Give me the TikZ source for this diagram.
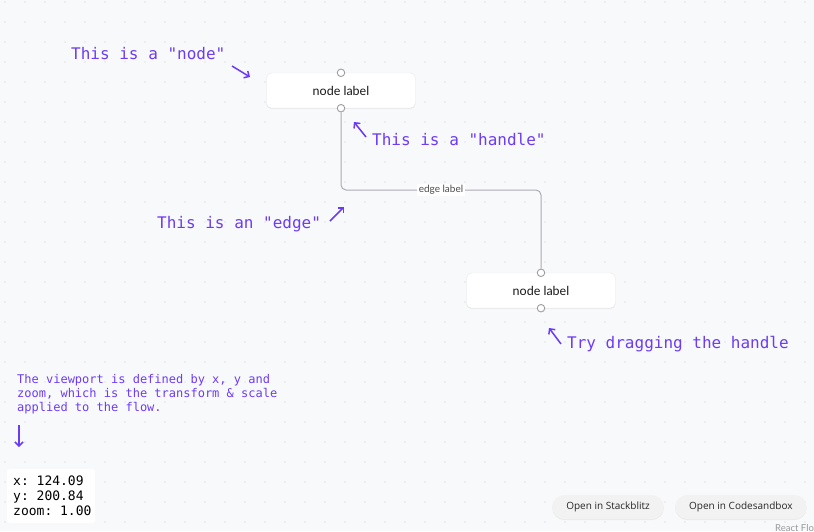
\documentclass[tikz,border=0pt]{standalone}
\usepackage{fontspec}
\setmainfont{Lato}
\setmonofont{DejaVu Sans Mono}
\newfontfamily\btnfont{Open Sans}
\usetikzlibrary{arrows.meta,positioning,shadows}
\definecolor{canvas}{HTML}{F8F9FB}
\definecolor{griddot}{HTML}{C9CBD1}
\definecolor{hint}{HTML}{6C3CF5}
\definecolor{edgegray}{HTML}{ACACB3}
\definecolor{handlegray}{HTML}{9C9CA3}

\begin{document}
\begin{tikzpicture}[
x=1pt, y=-1pt,
flownode/.style={fill=white, draw=black!8, rounded corners=5pt, minimum width=149pt, minimum height=35pt, inner sep=0pt, text=black!90, font=\fontsize{12.5}{14}\selectfont, drop shadow={opacity=0.12, shadow xshift=0pt, shadow yshift=-1pt}},
handle/.style={circle, fill=white, draw=handlegray, line width=0.9pt, minimum size=7.5pt, inner sep=0pt},
edge/.style={draw=edgegray, line width=1pt, rounded corners=5pt},
edgelabel/.style={fill=white, inner sep=1.5pt, text=black!70, font=\fontsize{10}{12}\selectfont},
note/.style={text=hint, inner sep=0pt, anchor=west, font=\ttfamily\fontsize{16}{19}\selectfont},
pointer/.style={draw=hint, line width=1.5pt, -{Straight Barb[length=4pt, width=8pt]}},
button/.style={fill=black!5, rounded corners=12pt, minimum height=24pt, inner xsep=14pt, font=\btnfont\fontsize{10}{12}\selectfont, text=black!85, drop shadow={opacity=0.12, shadow xshift=0pt, shadow yshift=-1pt}}
]
% canvas and dot grid
\fill[canvas] (0,0) rectangle (814,531);
\useasboundingbox (0,0) rectangle (814,531);
\foreach \i in {0,...,40}
  \foreach \j in {0,...,26}
    \fill[griddot] (5+20*\i,2+20*\j) circle (0.7pt);

% the two flow nodes
\node[flownode] (top) at (341,90.5) {node label};
\node[flownode] (bottom) at (541,290.5) {node label};
\node[handle] (topin) at (top.north) {};
\node[handle] (topout) at (top.south) {};
\node[handle] (bottomin) at (bottom.north) {};
\node[handle] (bottomout) at (bottom.south) {};

% edge
\coordinate (bend) at (441,190);
\draw[edge] (topout) |- (bend) -| (bottomin);
\node[edgelabel] (elabel) at (bend) {edge label};

% hints
\node[note] (nodehint) at (71,54) {This is a "node"};
\node[note] (handlehint) at (372,139) {This is a "handle"};
\node[note] (edgehint) at (157,224) {This is an "edge"};
\node[note] (draghint) at (567,344) {Try dragging the handle};
\coordinate (nodetip) at (250,77);
\coordinate (handletip) at (354,122);
\coordinate (edgetip) at (344,207);
\coordinate (dragtip) at (549,328);
\draw[pointer] (232,66) -- (nodetip);
\draw[pointer] (366,137) -- (handletip);
\draw[pointer] (330,221) -- (edgetip);
\draw[pointer] (561,344) -- (dragtip);

% viewport info
\node[note, anchor=north west, align=left, font=\ttfamily\fontsize{12}{14}\selectfont] (viewhint) at (17,374)
  {The viewport is defined by x, y and\\zoom, which is the transform \& scale\\applied to the flow.};
\coordinate (viewtip) at (19,447);
\draw[pointer] (19,425) -- (viewtip);
\fill[white, rounded corners=3pt] (7,469) rectangle (95,523);
\node[anchor=north west, align=left, inner sep=0pt, font=\ttfamily\fontsize{13}{15}\selectfont] (viewport) at (13,476)
  {x: 124.09\\y: 200.84\\zoom: 1.00};

% buttons
\node[button] (stackblitz) at (608,507) {Open in Stackblitz};
\node[button, right=11pt of stackblitz] (codesandbox) {Open in Codesandbox};
\node[anchor=base west, inner sep=0pt, text=black!40, font=\fontsize{9.5}{11}\selectfont] (watermark) at (775,531) {React Flow};
\end{tikzpicture}
\end{document}
